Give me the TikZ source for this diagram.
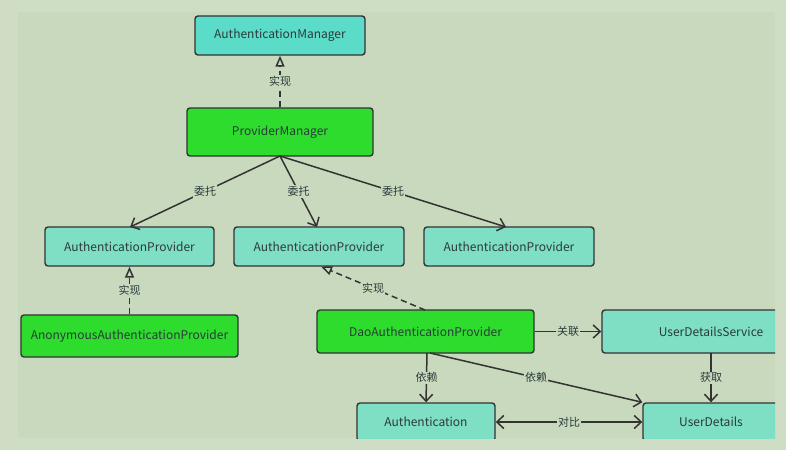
\documentclass[tikz,border=0pt]{standalone}
\usepackage{fontspec}
\setmainfont{Noto Sans CJK SC}
\usetikzlibrary{arrows.meta}
\definecolor{bgout}{HTML}{CEDDC3}
\definecolor{bgin}{HTML}{C9D9BD}
\definecolor{tealA}{HTML}{5ADCC8}
\definecolor{tealB}{HTML}{7EDFC4}
\definecolor{greenB}{HTML}{2EDC2E}
\definecolor{linec}{HTML}{333333}
\definecolor{txt}{HTML}{2B3B3B}
\tikzset{
  box/.style={draw=linec, line width=1.4pt, rounded corners=3pt, inner sep=0pt, text=txt, font=\fontsize{12}{14}\selectfont},
  mgr/.style={box, fill=tealA},
  prov/.style={box, fill=tealB},
  impl/.style={box, fill=greenB},
  lbl/.style={fill=bgin, inner sep=1pt, text=txt, font=\fontsize{11}{13}\selectfont},
  assoc/.style={draw=linec, line width=1.5pt, -{Straight Barb[length=7pt,width=13pt,line width=1.5pt]}},
  both/.style={draw=linec, line width=1.5pt, {Straight Barb[length=7pt,width=13pt,line width=1.5pt]}-{Straight Barb[length=7pt,width=13pt,line width=1.5pt]}},
  realize/.style={draw=linec, line width=1.5pt, dash pattern=on 6pt off 4pt, -{Triangle[open, length=11pt, width=9pt, line width=1.5pt]}}
}
\begin{document}
\begin{tikzpicture}[x=1pt,y=-1pt]
\fill[bgout] (0,0) rectangle (786,450);
\useasboundingbox (0,0) rectangle (786,450);
\fill[bgin] (18,12) rectangle (775,438);
\begin{scope}
\clip (18,12) rectangle (775,438);
\node[mgr, minimum width=170pt, minimum height=39pt] (am) at (280,35.5) {AuthenticationManager};
\node[impl, minimum width=186pt, minimum height=48pt] (pm) at (280,132) {ProviderManager};
\node[prov, minimum width=169pt, minimum height=39pt] (ap1) at (129.5,246.5) {AuthenticationProvider};
\node[prov, minimum width=170pt, minimum height=39pt] (ap2) at (319,246.5) {AuthenticationProvider};
\node[prov, minimum width=170pt, minimum height=39pt] (ap3) at (509,246.5) {AuthenticationProvider};
\node[impl, minimum width=217pt, minimum height=42pt] (anon) at (129.5,336) {AnonymousAuthenticationProvider};
\node[impl, minimum width=217pt, minimum height=43pt] (dao) at (425.5,331.5) {DaoAuthenticationProvider};
\node[prov, minimum width=218pt, minimum height=43pt] (uds) at (711,331.5) {UserDetailsService};
\node[prov, minimum width=138pt, minimum height=38pt] (auth) at (426,422) {Authentication};
\node[prov, minimum width=136pt, minimum height=38pt] (ud) at (711,422) {UserDetails};

\coordinate (pmb) at (280,156);
\draw[realize] (pm.north) -- node[lbl] {实现} (am.south);
\draw[assoc] (pmb) -- node[lbl, pos=0.5] {委托} (130,227);
\draw[assoc] (pmb) -- node[lbl, pos=0.5] {委托} (317,227);
\draw[assoc] (pmb) -- node[lbl, pos=0.5] {委托} (506,227);
\draw[realize] (anon.north) -- node[lbl] {实现} (ap1.south);
\draw[realize] (425,310) -- node[lbl] {实现} (321,266.5);
\draw[assoc] (dao.east) -- node[lbl] {关联} (uds.west);
\draw[assoc] (427,353) -- node[lbl] {依赖} (auth.north);
\draw[assoc] (430,353) -- node[lbl] {依赖} (ud.north west);
\draw[assoc] (711,353) -- node[lbl] {获取} (ud.north);
\draw[both] (auth.east) -- node[lbl] {对比} (ud.west);
\end{scope}
\end{tikzpicture}
\end{document}
